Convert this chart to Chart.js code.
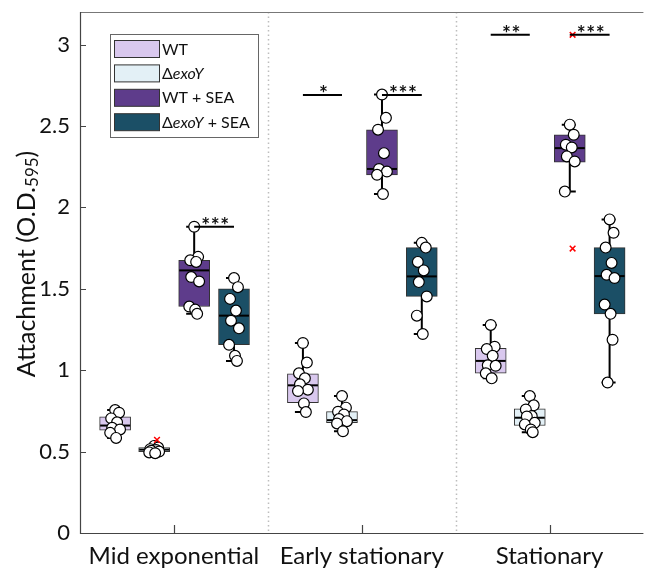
<!DOCTYPE html>
<html><head><meta charset="utf-8">
<script src="https://cdn.jsdelivr.net/npm/chart.js@4/dist/chart.umd.min.js"></script>
<style>html,body{margin:0;padding:0;background:#fff;overflow:hidden}#wrap{width:650px;height:568px;position:relative}</style>
</head><body><div id="wrap"><canvas id="c" width="650" height="568"></canvas></div>
<script>
// ---------------- DATA ----------------
const categories = ['Mid exponential', 'Early stationary', 'Stationary'];
const seriesNames = ['WT', 'ΔexoY', 'WT + SEA', 'ΔexoY + SEA'];
const yTickValues = [0, 0.5, 1, 1.5, 2, 2.5, 3];
const yTitle = 'Attachment (O.D.';
const yTitleSub = '595';

// box statistics: [series][category]
const whiskerLow  = [[0.584, 0.743, 0.950], [0.490, 0.625, 0.619], [1.346, 2.082, 2.097], [1.057, 1.222, 0.924]];
const quartile1   = [[0.631, 0.800, 0.981], [0.500, 0.677, 0.660], [1.391, 2.200, 2.278], [1.156, 1.453, 1.346]];
const medians     = [[0.660, 0.907, 1.057], [0.512, 0.693, 0.708], [1.613, 2.236, 2.364], [1.335, 1.576, 1.578]];
const quartile3   = [[0.714, 0.977, 1.134], [0.525, 0.745, 0.763], [1.675, 2.477, 2.446], [1.500, 1.753, 1.753]];
const whiskerHigh = [[0.755, 1.167, 1.278], [0.535, 0.841, 0.841], [1.881, 2.693, 2.508], [1.566, 1.782, 1.926]];

// individual replicates: [category][points]
const wtPoints = [
  [0.755, 0.739, 0.704, 0.680, 0.646, 0.636, 0.615, 0.584],
  [1.167, 1.047, 0.981, 0.950, 0.913, 0.880, 0.872, 0.796, 0.743],
  [1.278, 1.144, 1.130, 1.088, 1.030, 1.027, 0.981, 0.950]
];
const exoYPoints = [
  [0.535, 0.525, 0.515, 0.510, 0.505, 0.500, 0.495, 0.490],
  [0.841, 0.770, 0.745, 0.728, 0.700, 0.687, 0.673, 0.625],
  [0.841, 0.784, 0.759, 0.718, 0.716, 0.677, 0.667, 0.636, 0.619]
];
const wtSeaPoints = [
  [1.881, 1.696, 1.675, 1.665, 1.572, 1.545, 1.391, 1.372, 1.346],
  [2.693, 2.550, 2.477, 2.333, 2.236, 2.220, 2.200, 2.082],
  [2.508, 2.446, 2.385, 2.368, 2.313, 2.282, 2.097]
];
const exoYSeaPoints = [
  [1.566, 1.510, 1.438, 1.366, 1.304, 1.257, 1.156, 1.088, 1.057],
  [1.782, 1.753, 1.665, 1.613, 1.541, 1.453, 1.335, 1.222],
  [1.926, 1.844, 1.753, 1.659, 1.586, 1.566, 1.403, 1.346, 1.187, 0.924]
];
const allPoints = [wtPoints, exoYPoints, wtSeaPoints, exoYSeaPoints];

// outliers
const outlierSeries = [1, 2, 2];
const outlierCats   = [0, 2, 2];
const outlierValues = [0.572, 3.06, 1.747];

// significance annotations
const sigCats   = [0, 1, 1, 2, 2];
const sigFrom   = [2, 0, 2, 0, 2];
const sigTo     = [3, 1, 3, 1, 3];
const sigValues = [1.881, 2.69, 2.69, 3.06, 3.06];
const sigLabels = ['***', '*', '***', '**', '***'];

// ---------------- STYLE ----------------
const FONT = 'Lato, "Open Sans", sans-serif';
const colors = ['#d9c8ee', '#e3f0f6', '#5e3c8b', '#1b4f66'];
const seriesOffset = [-0.313, -0.105, 0.108, 0.32];
const jitterPx = [0, 4, -4, 2, -3, 5, -5, 1, 3, -2];
const PX_PER_UNIT = 190;

const datasets = [];
seriesNames.forEach((name, s) => {
  datasets.push({
    type: 'bar', label: name, order: 5, grouped: false,
    data: categories.map((c, ci) => ({ x: ci + 1 + seriesOffset[s], y: [quartile1[s][ci], quartile3[s][ci]] })),
    backgroundColor: colors[s], borderColor: '#333', borderWidth: 1, borderSkipped: false,
    barThickness: 31, _series: s
  });
});
seriesNames.forEach((name, s) => {
  const pts = [];
  allPoints[s].forEach((arr, ci) => arr.forEach((v, k) => {
    pts.push({ x: ci + 1 + seriesOffset[s] + jitterPx[k % jitterPx.length] / PX_PER_UNIT, y: v });
  }));
  datasets.push({
    type: 'scatter', label: name + ' points', order: 1, data: pts,
    pointRadius: 5.4, pointBackgroundColor: '#fff', pointBorderColor: '#000', pointBorderWidth: 1.2
  });
});
datasets.push({
  type: 'scatter', label: 'outliers', order: 0,
  data: outlierValues.map((v, i) => ({ x: outlierCats[i] + 1 + seriesOffset[outlierSeries[i]] + 0.015, y: v })),
  pointStyle: 'crossRot', pointRadius: 4, pointBorderColor: '#f00', pointBorderWidth: 1.5
});

// whiskers + medians drawn after each box dataset
const boxExtras = {
  id: 'boxExtras',
  afterDatasetDraw(chart, args) {
    const ds = chart.data.datasets[args.index];
    if (ds._series === undefined) return;
    const s = ds._series, ctx = chart.ctx, xs = chart.scales.x, ys = chart.scales.y;
    ctx.save();
    ctx.strokeStyle = '#000';
    ctx.lineWidth = 2;
    categories.forEach((c, ci) => {
      const x = xs.getPixelForValue(ci + 1 + seriesOffset[s]);
      const yl = ys.getPixelForValue(whiskerLow[s][ci]), y1 = ys.getPixelForValue(quartile1[s][ci]);
      const y3 = ys.getPixelForValue(quartile3[s][ci]), yh = ys.getPixelForValue(whiskerHigh[s][ci]);
      const ym = ys.getPixelForValue(medians[s][ci]);
      ctx.beginPath();
      ctx.moveTo(x, yl); ctx.lineTo(x, y1);
      ctx.moveTo(x, y3); ctx.lineTo(x, yh);
      ctx.moveTo(x - 8, yl); ctx.lineTo(x + 6, yl);
      ctx.moveTo(x - 8, yh); ctx.lineTo(x + 6, yh);
      ctx.stroke();
      ctx.beginPath();
      ctx.moveTo(x - 15, ym); ctx.lineTo(x + 15, ym);
      ctx.stroke();
    });
    ctx.restore();
  }
};

const frame = {
  id: 'frame',
  beforeDatasetsDraw(chart) {
    const { ctx, scales: { x: xs, y: ys } } = chart;
    ctx.save();
    ctx.strokeStyle = '#bdbdbd'; ctx.lineWidth = 1.5; ctx.setLineDash([1.5, 3]);
    [1.5, 2.5].forEach(v => {
      const px = Math.round(xs.getPixelForValue(v)) + 0.5;
      ctx.beginPath(); ctx.moveTo(px, ys.top); ctx.lineTo(px, ys.bottom); ctx.stroke();
    });
    ctx.restore();
  },
  afterDraw(chart) {
    const { ctx, scales: { x: xs, y: ys } } = chart;
    const L = xs.left, R = xs.right, T = ys.top, B = ys.bottom;
    ctx.save();
    ctx.lineWidth = 1.2;
    ctx.strokeStyle = '#777';
    ctx.beginPath(); ctx.moveTo(L, Math.round(T) + 0.5); ctx.lineTo(R, Math.round(T) + 0.5); ctx.stroke();
    ctx.strokeStyle = '#444';
    ctx.beginPath();
    ctx.moveTo(L + 0.5, T); ctx.lineTo(L + 0.5, B + 0.5); ctx.lineTo(R, B + 0.5);
    yTickValues.forEach(v => { const py = Math.round(ys.getPixelForValue(v)) + 0.5; ctx.moveTo(L, py); ctx.lineTo(L + 6, py); });
    [1, 2, 3].forEach(v => { const px = Math.round(xs.getPixelForValue(v)) + 0.5; ctx.moveTo(px, B); ctx.lineTo(px, B - 8); });
    ctx.stroke();

    // y title with subscript
    ctx.fillStyle = '#111';
    ctx.translate(27, 264);
    ctx.rotate(-Math.PI / 2);
    const big = '25px ' + FONT, small = '17px ' + FONT;
    ctx.font = big;
    const w1 = ctx.measureText(yTitle).width;
    ctx.font = small;
    const w2 = ctx.measureText(yTitleSub).width;
    ctx.font = big;
    const w3 = ctx.measureText(')').width;
    let x0 = -(w1 + w2 + w3) / 2;
    ctx.textBaseline = 'middle';
    ctx.fillText(yTitle, x0, 0);
    ctx.font = small;
    ctx.fillText(yTitleSub, x0 + w1, 6);
    ctx.font = big;
    ctx.fillText(')', x0 + w1 + w2, 0);
    ctx.restore();

    // legend
    ctx.save();
    const lx = 110.5, ly = 34.5, lw = 148, lh = 103;
    ctx.fillStyle = '#fff'; ctx.fillRect(lx, ly, lw, lh);
    ctx.strokeStyle = '#666'; ctx.lineWidth = 1; ctx.strokeRect(lx, ly, lw, lh);
    ctx.textBaseline = 'middle';
    seriesNames.forEach((name, s) => {
      const ry = 40 + s * 24.4;
      ctx.fillStyle = colors[s]; ctx.fillRect(114.5, ry + 0.5, 45, 17);
      ctx.strokeStyle = '#333'; ctx.strokeRect(114.5, ry + 0.5, 45, 17);
      ctx.fillStyle = '#111';
      let tx = 162;
      const parts = name.split('exoY');
      const segs = parts.length > 1 ? [[parts[0], false], ['exoY', true], [parts[1], false]] : [[name, false]];
      segs.forEach(([t, it]) => {
        if (!t) return;
        ctx.font = (it ? 'italic ' : '') + '16px ' + FONT;
        ctx.fillText(t, tx, ry + 9.5);
        tx += ctx.measureText(t).width;
      });
    });
    ctx.restore();

    // significance bars
    ctx.save();
    ctx.strokeStyle = '#000'; ctx.fillStyle = '#111'; ctx.lineWidth = 2;
    sigValues.forEach((v, i) => {
      const xa = xs.getPixelForValue(sigCats[i] + 1 + seriesOffset[sigFrom[i]]);
      const xb = xs.getPixelForValue(sigCats[i] + 1 + seriesOffset[sigTo[i]]);
      const py = ys.getPixelForValue(v);
      ctx.beginPath(); ctx.moveTo(xa, py); ctx.lineTo(xb, py); ctx.stroke();
      ctx.font = 'bold 21px ' + FONT; ctx.textAlign = 'center'; ctx.textBaseline = 'alphabetic';
      const n = sigLabels[i].length, step = 9.5, cx = (xa + xb) / 2 + 1;
      for (let k = 0; k < n; k++) ctx.fillText('*', cx + (k - (n - 1) / 2) * step, py + 6);
    });
    ctx.restore();
  }
};

new Chart(document.getElementById('c'), {
  type: 'bar',
  data: { datasets },
  plugins: [boxExtras, frame],
  options: {
    responsive: false, animation: false, events: [],
    layout: { padding: { top: 12, right: 0, left: 0, bottom: 0 } },
    plugins: { legend: { display: false }, tooltip: { enabled: false } },
    scales: {
      x: {
        type: 'linear', min: 0.5, max: 3.5, offset: false,
        grid: { display: false, drawTicks: false }, border: { display: false },
        afterBuildTicks(scale) { scale.ticks = [1, 2, 3].map(v => ({ value: v })); },
        afterFit(scale) { scale.height = 35; scale.paddingLeft = 0; scale.paddingRight = 0; },
        ticks: { autoSkip: false, maxRotation: 0, padding: 9, color: '#111', font: { size: 24, family: FONT },
          callback: v => categories[v - 1] }
      },
      y: {
        min: 0, max: 3.2,
        grid: { display: false, drawTicks: false }, border: { display: false },
        afterBuildTicks(scale) { scale.ticks = yTickValues.map(v => ({ value: v })); },
        afterFit(scale) { scale.width = 80; scale.paddingTop = 0; scale.paddingBottom = 0; },
        ticks: { padding: 10, color: '#111', font: { size: 22, family: FONT }, callback: v => String(v) }
      }
    }
  }
});
</script></body></html>
